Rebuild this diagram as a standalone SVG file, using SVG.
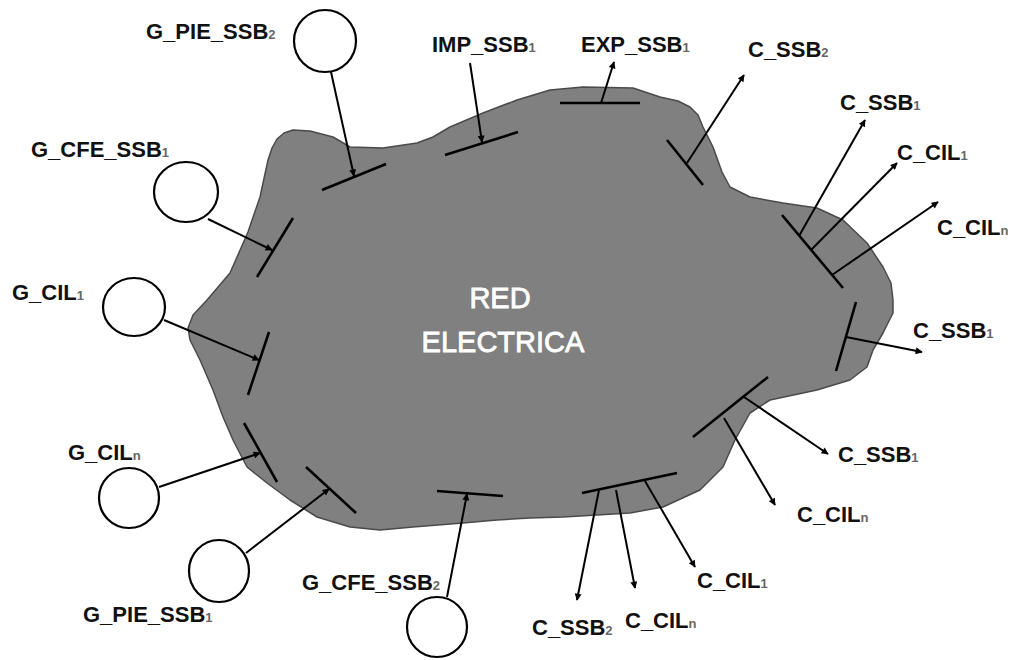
<svg xmlns="http://www.w3.org/2000/svg" width="1013" height="660" viewBox="0 0 1013 660">
<defs>
<marker id="ah" viewBox="0 0 10 10" refX="9" refY="5" markerWidth="9" markerHeight="7" orient="auto" markerUnits="userSpaceOnUse"><path d="M0,0 L10,5 L0,10 z" fill="#000"/></marker>
<style>
.blob{fill:#808080;stroke:#4a4a4a;stroke-width:1.5;stroke-linejoin:round}
.gen{fill:#fff;stroke:#000;stroke-width:2.2}
.bar{stroke:#000;stroke-width:2.6;stroke-linecap:butt}
.con{stroke:#000;stroke-width:2;fill:none;marker-end:url(#ah)}
.lbl{font-family:"Liberation Sans",Arial,sans-serif;font-weight:bold;font-size:22px;fill:#111}
.sub{font-size:13px;fill:#666}
.title{font-family:"Liberation Sans",Arial,sans-serif;font-size:29px;fill:#fff;stroke:#fff;stroke-width:0.8;text-anchor:middle}
</style>
</defs>
<rect width="1013" height="660" fill="#fff"/>

<g id="red-electrica">
<path class="blob" d="M293,130 L310,131 L333,137 L350,147 L383,148 L417,143 L433,137 L450,127 L483,113 L517,100 L550,90 L583,87 L633,88 L660,97 L678,101 L690,107 L698,115 L703,127 L713,147 L722,172 L730,187 L750,197 L783,203 L817,208 L843,220 L867,243 L883,267 L891,283 L893,300 L893,313 L883,333 L873,350 L867,367 L850,380 L817,390 L770,400 L750,413 L735,440 L723,467 L700,490 L663,507 L630,513 L597,515 L563,517 L530,518 L497,520 L463,523 L413,527 L380,530 L350,527 L317,517 L290,500 L267,483 L247,467 L233,440 L223,417 L213,390 L200,360 L190,340 L188,328 L193,315 L207,300 L230,273 L248,232 L260,197 L268,160 L272,148 L277,139 L284,133 Z"/>
<text class="title" x="500" y="308">RED</text>
<text class="title" x="503" y="352">ELECTRICA</text>
<g id="bars">
<line class="bar" x1="322" y1="190" x2="386" y2="164"/>
<line class="bar" x1="293" y1="218" x2="257" y2="277"/>
<line class="bar" x1="269" y1="332" x2="248" y2="395"/>
<line class="bar" x1="244" y1="423" x2="277" y2="482"/>
<line class="bar" x1="306" y1="467" x2="356" y2="513"/>
<line class="bar" x1="437" y1="491" x2="503" y2="496"/>
<line class="bar" x1="445" y1="155" x2="518" y2="132"/>
<line class="bar" x1="560" y1="103" x2="640" y2="103"/>
<line class="bar" x1="667" y1="140" x2="703" y2="185"/>
<line class="bar" x1="782" y1="215" x2="843" y2="288"/>
<line class="bar" x1="856" y1="302" x2="836" y2="371"/>
<line class="bar" x1="693" y1="437" x2="768" y2="377"/>
<line class="bar" x1="582" y1="493" x2="677" y2="473"/>
</g>
</g>

<g id="connectors">
<line class="con" x1="331" y1="72" x2="354" y2="176"/>
<line class="con" x1="208" y1="219" x2="272" y2="250"/>
<line class="con" x1="164" y1="320" x2="259" y2="360"/>
<line class="con" x1="159" y1="487" x2="260" y2="453"/>
<line class="con" x1="246" y1="553" x2="329" y2="489"/>
<line class="con" x1="447" y1="597" x2="467" y2="494"/>
<line class="con" x1="470" y1="63" x2="482" y2="142"/>
<line class="con" x1="601" y1="103" x2="614" y2="62"/>
<line class="con" x1="687" y1="163" x2="744" y2="75"/>
<line class="con" x1="799" y1="236" x2="865" y2="120"/>
<line class="con" x1="811" y1="250" x2="897" y2="163"/>
<line class="con" x1="832" y1="275" x2="938" y2="202"/>
<line class="con" x1="846" y1="337" x2="922" y2="352"/>
<line class="con" x1="744" y1="397" x2="828" y2="454"/>
<line class="con" x1="724" y1="418" x2="775" y2="505"/>
<line class="con" x1="599" y1="490" x2="577" y2="600"/>
<line class="con" x1="616" y1="490" x2="635" y2="588"/>
<line class="con" x1="645" y1="481" x2="695" y2="567"/>
</g>

<g id="g-pie-ssb2"><ellipse class="gen" cx="325" cy="41" rx="31" ry="31"/><text class="lbl" x="146" y="39">G_PIE_SSB<tspan class="sub">2</tspan></text></g>
<g id="g-cfe-ssb1"><ellipse class="gen" cx="186" cy="192" rx="32" ry="30"/><text class="lbl" x="31" y="157">G_CFE_SSB<tspan class="sub">1</tspan></text></g>
<g id="g-cil1"><ellipse class="gen" cx="134" cy="307" rx="31" ry="29"/><text class="lbl" x="12" y="300">G_CIL<tspan class="sub">1</tspan></text></g>
<g id="g-ciln"><ellipse class="gen" cx="129" cy="498" rx="30" ry="30"/><text class="lbl" x="68" y="460">G_CIL<tspan class="sub">n</tspan></text></g>
<g id="g-pie-ssb1"><ellipse class="gen" cx="219" cy="571" rx="30" ry="31"/><text class="lbl" x="83" y="622">G_PIE_SSB<tspan class="sub">1</tspan></text></g>
<g id="g-cfe-ssb2"><ellipse class="gen" cx="437" cy="627" rx="30" ry="30"/><text class="lbl" x="302" y="590">G_CFE_SSB<tspan class="sub">2</tspan></text></g>

<g id="imp-ssb1"><text class="lbl" x="432" y="52">IMP_SSB<tspan class="sub">1</tspan></text></g>
<g id="exp-ssb1"><text class="lbl" x="581" y="52">EXP_SSB<tspan class="sub">1</tspan></text></g>
<g id="c-ssb2-top"><text class="lbl" x="748" y="57">C_SSB<tspan class="sub">2</tspan></text></g>
<g id="c-ssb1-a"><text class="lbl" x="840" y="110">C_SSB<tspan class="sub">1</tspan></text></g>
<g id="c-cil1-a"><text class="lbl" x="897" y="160">C_CIL<tspan class="sub">1</tspan></text></g>
<g id="c-ciln-a"><text class="lbl" x="937" y="235">C_CIL<tspan class="sub">n</tspan></text></g>
<g id="c-ssb1-b"><text class="lbl" x="913" y="338">C_SSB<tspan class="sub">1</tspan></text></g>
<g id="c-ssb1-c"><text class="lbl" x="838" y="462">C_SSB<tspan class="sub">1</tspan></text></g>
<g id="c-ciln-b"><text class="lbl" x="797" y="522">C_CIL<tspan class="sub">n</tspan></text></g>
<g id="c-cil1-b"><text class="lbl" x="697" y="588">C_CIL<tspan class="sub">1</tspan></text></g>
<g id="c-ciln-c"><text class="lbl" x="625" y="628">C_CIL<tspan class="sub">n</tspan></text></g>
<g id="c-ssb2-b"><text class="lbl" x="532" y="635">C_SSB<tspan class="sub">2</tspan></text></g>
</svg>
